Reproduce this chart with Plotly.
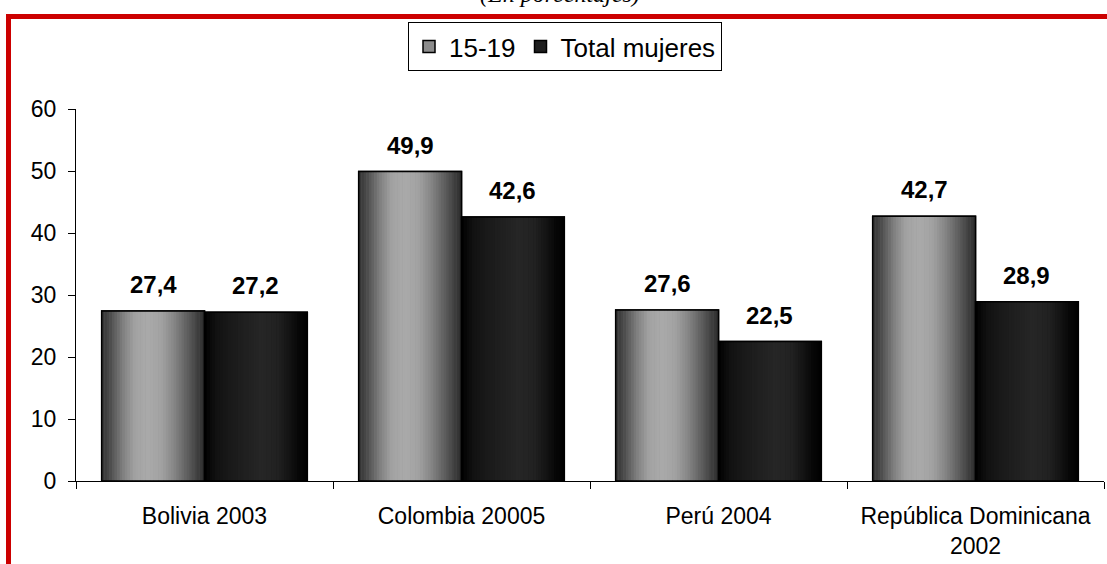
import plotly.graph_objects as go

# ---------------- data ----------------
categories = ["Bolivia 2003", "Colombia 20005", "Perú 2004", "República Dominicana<br>2002"]
series_names = ["15-19", "Total mujeres"]
values_15_19 = [27.4, 49.9, 27.6, 42.7]
values_total = [27.2, 42.6, 22.5, 28.9]
y_ticks = [0, 10, 20, 30, 40, 50, 60]
title_text = "(En porcentajes)"

# ---------------- style ----------------
W_PX, H_PX = 1107, 564
M_L, M_R, M_T, M_B = 76, 3, 109, 83
PLOT_W = W_PX - M_L - M_R
PLOT_H = H_PX - M_T - M_B
BAR_W = 0.4
N_STRIPS = 40
FONT = "Liberation Sans, Arial, sans-serif"
RED = "#CC0000"

# gradient stops (position, gray level) for cylinder shading
grad_light = [(0.0, 50), (0.08, 75), (0.2, 125), (0.32, 162), (0.45, 170),
              (0.58, 162), (0.7, 135), (0.84, 92), (0.94, 60), (1.0, 45)]
grad_dark = [(0.0, 0), (0.05, 8), (0.12, 18), (0.3, 28), (0.55, 38),
             (0.7, 34), (0.82, 20), (0.92, 6), (1.0, 0)]


def gray_at(stops, t):
    for (p0, g0), (p1, g1) in zip(stops[:-1], stops[1:]):
        if p0 <= t <= p1:
            f = (t - p0) / (p1 - p0) if p1 > p0 else 0
            g = int(round(g0 + f * (g1 - g0)))
            return f"rgb({g},{g},{g})"
    g = stops[-1][1]
    return f"rgb({g},{g},{g})"


def px_x(px):
    return (px - M_L) / PLOT_W


def px_y(py):
    return (H_PX - M_B - py) / PLOT_H


fig = go.Figure()

series = [
    (series_names[0], values_15_19, -BAR_W, grad_light, "rgb(140,140,140)"),
    (series_names[1], values_total, 0.0, grad_dark, "rgb(30,30,30)"),
]

# base bars (legend entries)
for name, vals, off, stops, base in series:
    fig.add_trace(go.Bar(
        x=categories, y=vals, name=name, offset=off, width=BAR_W,
        marker=dict(color=base, line=dict(color="black", width=1.5)),
        hoverinfo="skip",
    ))

# gradient strips
for name, vals, off, stops, base in series:
    sw = BAR_W / N_STRIPS
    for k in range(N_STRIPS):
        t = (k + 0.5) / N_STRIPS
        fig.add_trace(go.Bar(
            x=categories, y=vals, offset=off + k * sw,
            width=sw * 1.15 if k < N_STRIPS - 1 else sw,
            marker=dict(color=gray_at(stops, t), line=dict(width=0)),
            showlegend=False, hoverinfo="skip",
        ))

# outlines on top
for name, vals, off, stops, base in series:
    fig.add_trace(go.Bar(
        x=categories, y=vals, offset=off, width=BAR_W,
        marker=dict(color="rgba(0,0,0,0)", line=dict(color="black", width=1.5)),
        showlegend=False, hoverinfo="skip",
    ))

annotations = []
for name, vals, off, stops, base in series:
    for i, v in enumerate(vals):
        annotations.append(dict(
            x=i + off + BAR_W / 2, y=v, xref="x", yref="y",
            text=f"<b>{v:.1f}</b>".replace(".", ","),
            showarrow=False, yanchor="bottom", yshift=11,
            font=dict(family=FONT, size=24, color="black"),
        ))

annotations.append(dict(
    x=px_x(560), y=px_y(-6), xref="paper", yref="paper",
    text=f"<i>{title_text}</i>", showarrow=False,
    xanchor="center", yanchor="middle",
    font=dict(family="Liberation Serif, Times New Roman, serif", size=24, color="black"),
))

shapes = [
    dict(type="rect", xref="paper", yref="paper",
         x0=px_x(6), x1=px_x(11), y0=px_y(14), y1=px_y(600),
         fillcolor=RED, line=dict(width=0), layer="above"),
    dict(type="rect", xref="paper", yref="paper",
         x0=px_x(6), x1=px_x(1115), y0=px_y(14), y1=px_y(19),
         fillcolor=RED, line=dict(width=0), layer="above"),
]

fig.update_layout(
    width=W_PX, height=H_PX,
    margin=dict(l=M_L, r=M_R, t=M_T, b=M_B, pad=0),
    paper_bgcolor="white", plot_bgcolor="white",
    barmode="overlay",
    font=dict(family=FONT, size=23, color="black"),
    showlegend=True,
    legend=dict(
        orientation="h", x=px_x(565), xanchor="center", y=px_y(22), yanchor="top",
        bordercolor="black", borderwidth=1, bgcolor="white",
        font=dict(family=FONT, size=26, color="black"),
        itemclick=False, itemdoubleclick=False,
    ),
    annotations=annotations,
    shapes=shapes,
)

fig.update_xaxes(
    type="category", categoryorder="array", categoryarray=categories,
    range=[-0.5, len(categories) - 0.5],
    showline=True, linecolor="black", linewidth=1,
    ticks="outside", tickson="boundaries", ticklen=7, tickcolor="black",
    showgrid=False, zeroline=False,
    tickfont=dict(family=FONT, size=23, color="black"),
    ticklabelstandoff=14,
)
fig.update_yaxes(
    range=[0, 60], tickvals=y_ticks, ticktext=[str(t) for t in y_ticks],
    showline=True, linecolor="black", linewidth=1,
    ticks="outside", ticklen=7, tickcolor="black",
    showgrid=False, zeroline=False,
    tickfont=dict(family=FONT, size=23, color="black"),
    ticklabelstandoff=7,
)

fig.write_html(
    "out.html",
    config={"displayModeBar": False, "staticPlot": True},
    post_script="document.body.style.margin='0';document.body.style.overflow='hidden';",
)
